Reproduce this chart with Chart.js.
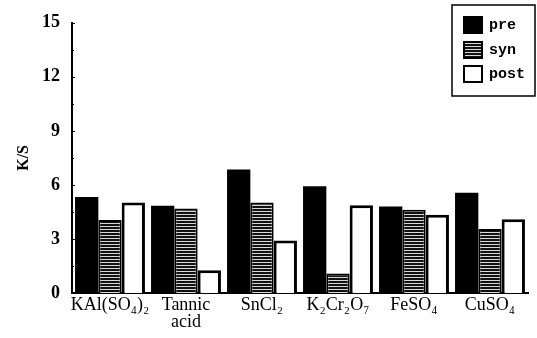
<!DOCTYPE html>
<html>
<head>
<meta charset="utf-8">
<script src="https://cdn.jsdelivr.net/npm/chart.js@4/dist/chart.umd.min.js"></script>
<style>
  html, body { margin: 0; padding: 0; background: #fff; }
  #wrap { width: 537px; height: 338px; position: relative; }
</style>
</head>
<body>
<div id="wrap"><canvas id="c" width="537" height="338"></canvas></div>
<script>
// Mordant treatments on the x axis
const categories = ['KAl(SO₄)₂', ['Tannic', 'acid'], 'SnCl₂', 'K₂Cr₂O₇', 'FeSO₄', 'CuSO₄'];
// K/S colour strength for each mordanting method
const preValues  = [5.33, 4.84, 6.85, 5.93, 4.80, 5.57];
const synValues  = [4.05, 4.69, 5.02, 1.08, 4.62, 3.55];
const postValues = [5.02, 1.26, 2.91, 4.87, 4.34, 4.10];
const seriesNames = ['pre', 'syn', 'post'];
const yTicks = [0, 3, 6, 9, 12, 15];

// horizontal-line hatch used for the "syn" bars
function makeHatch() {
  const p = document.createElement('canvas');
  p.width = 4; p.height = 3;
  const g = p.getContext('2d');
  g.fillStyle = '#111';
  g.fillRect(0, 0, 4, 3);
  g.fillStyle = '#d8d8d8';
  g.fillRect(0, 1, 4, 1);
  return g.createPattern(p, 'repeat');
}
const ctx0 = document.getElementById('c').getContext('2d');
const hatch = makeHatch();

const fills = ['#000', hatch, '#fff'];

// boxed legend in the upper right corner, plus small inward ticks on the value axis
const boxLegend = {
  id: 'boxLegend',
  afterDraw(chart) {
    const ctx = chart.ctx;
    ctx.save();
    const ys = chart.scales.y;
    ctx.strokeStyle = '#000';
    ctx.lineWidth = 1;
    for (let v = 0; v <= 15; v += 1.5) {
      const py = Math.round(ys.getPixelForValue(v)) + 0.5;
      ctx.beginPath();
      ctx.moveTo(ys.right, py);
      ctx.lineTo(ys.right + (v % 3 === 0 ? 3 : 2), py);
      ctx.stroke();
    }
    ctx.lineWidth = 1.5;
    ctx.strokeRect(452, 5, 83, 91);
    const rows = [25, 50, 74];
    chart.data.datasets.forEach((ds, i) => {
      const y = rows[i];
      ctx.fillStyle = ds.backgroundColor;
      ctx.fillRect(464, y - 8, 18, 16);
      ctx.lineWidth = 2;
      ctx.strokeStyle = '#000';
      ctx.strokeRect(464, y - 8, 18, 16);
      ctx.fillStyle = '#000';
      ctx.font = 'bold 15px "Liberation Mono", "DejaVu Sans Mono", monospace';
      ctx.textBaseline = 'middle';
      ctx.textAlign = 'left';
      ctx.fillText(ds.label, 489, y);
    });
    ctx.restore();
  }
};

new Chart(ctx0, {
  type: 'bar',
  data: {
    labels: categories,
    datasets: [
      { label: seriesNames[0], data: preValues,  backgroundColor: fills[0], borderColor: '#000', borderWidth: 0 },
      { label: seriesNames[1], data: synValues,  backgroundColor: fills[1], borderColor: '#000', borderWidth: 2 },
      { label: seriesNames[2], data: postValues, backgroundColor: fills[2], borderColor: '#000', borderWidth: 3 }
    ]
  },
  options: {
    responsive: false,
    animation: false,
    devicePixelRatio: 1,
    layout: { padding: { top: 12, right: 9, bottom: 0, left: 0 } },
    datasets: { bar: { categoryPercentage: 0.92, barPercentage: 1.0 } },
    plugins: { legend: { display: false }, tooltip: { enabled: false } },
    scales: {
      x: {
        grid: { display: false, drawTicks: false },
        border: { display: true, color: '#000', width: 2 },
        ticks: {
          color: '#000',
          padding: 4,
          maxRotation: 0,
          autoSkip: false,
          font: { family: '"Liberation Serif", "DejaVu Serif", serif', size: 18, lineHeight: 0.92 }
        },
        afterFit(s) { s.height = 45; }
      },
      y: {
        min: 0, max: 15,
        afterBuildTicks(s) { s.ticks = yTicks.map(v => ({ value: v })); },
        grid: { display: false, drawTicks: false },
        border: { display: true, color: '#000', width: 2 },
        ticks: {
          color: '#000',
          padding: 12,
          font: { family: '"Liberation Serif", "DejaVu Serif", serif', size: 18, weight: 'bold' }
        },
        title: {
          display: true,
          text: 'K/S',
          color: '#000',
          padding: { top: 14, bottom: 0 },
          font: { family: '"Liberation Serif", "DejaVu Serif", serif', size: 16, weight: 'bold' }
        },
        afterFit(s) { s.width = 72; }
      }
    }
  },
  plugins: [boxLegend]
});
</script>
</body>
</html>
